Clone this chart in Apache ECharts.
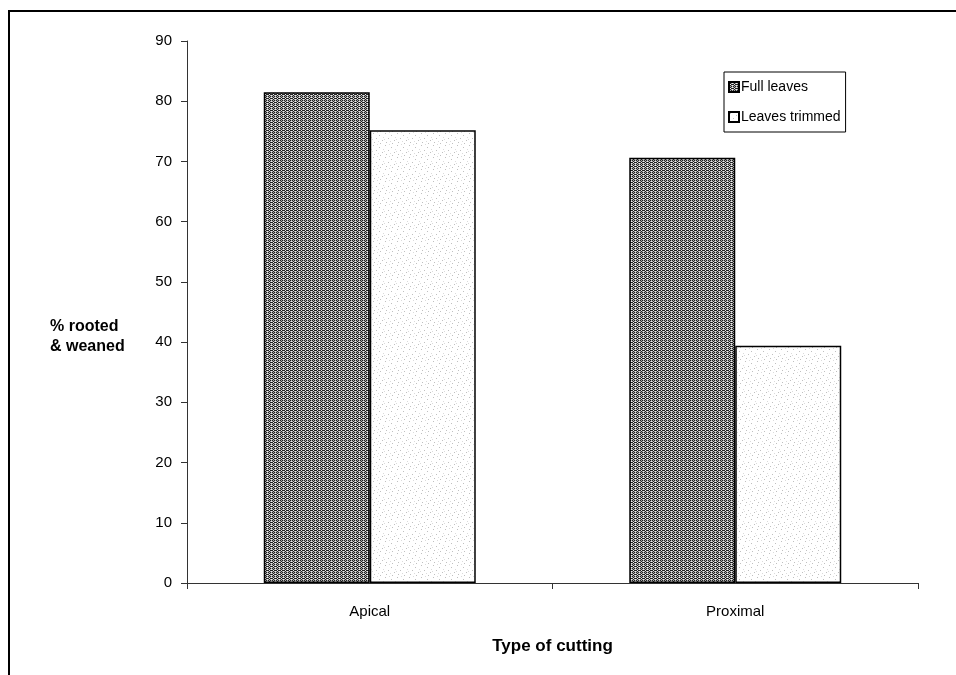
<!DOCTYPE html>
<html>
<head>
<meta charset="utf-8">
<script src="https://cdn.jsdelivr.net/npm/echarts@6/dist/echarts.min.js"></script>
<style>html,body{margin:0;padding:0;background:#fff}#c{width:956px;height:675px}</style>
</head>
<body>
<div id="c"></div>
<script>
const categories = ['Apical', 'Proximal'];
const seriesNames = ['Full leaves', 'Leaves trimmed'];
const fullLeaves = [81.5, 70.6];
const leavesTrimmed = [75.2, 39.4];
const yTicks = [0, 10, 20, 30, 40, 50, 60, 70, 80, 90];

function makeDark() {
  const c = document.createElement('canvas');
  c.width = 4; c.height = 4;
  const g = c.getContext('2d');
  g.fillStyle = '#a8a8a8'; g.fillRect(0, 0, 4, 4);
  g.fillStyle = '#222';
  const pts = [[0,0],[2,0],[1,1],[3,2],[0,2],[2,2],[1,3]];
  pts.forEach(p => g.fillRect(p[0], p[1], 1, 1));
  g.fillStyle = '#f0f0f0';
  g.fillRect(1, 2, 1, 1); g.fillRect(3, 3, 1, 1); g.fillRect(3, 1, 1, 1);
  return c;
}
function makeLight() {
  const c = document.createElement('canvas');
  c.width = 12; c.height = 12;
  const g = c.getContext('2d');
  g.fillStyle = '#fff'; g.fillRect(0, 0, 12, 12);
  g.fillStyle = '#c0c0c0';
  [[1,1],[7,3],[4,6],[10,8],[2,10],[8,11]].forEach(p => g.fillRect(p[0], p[1], 1, 1));
  g.fillStyle = '#dcdcdc';
  [[5,0],[11,5],[0,7],[6,9]].forEach(p => g.fillRect(p[0], p[1], 1, 1));
  return c;
}
const darkPat = { image: makeDark(), repeat: 'repeat' };
const lightPat = { image: makeLight(), repeat: 'repeat' };

const chart = echarts.init(document.getElementById('c'), null, { renderer: 'canvas' });
const font = 'Arial, "Liberation Sans", sans-serif';
chart.setOption({
  animation: false,
  backgroundColor: '#fff',
  textStyle: { fontFamily: font },
  grid: { left: 187, right: 38, top: 41, bottom: 92 },
  legend: {
    orient: 'vertical',
    left: 724, top: 72,
    data: seriesNames,
    itemWidth: 10, itemHeight: 10,
    itemGap: 16,
    padding: [8, 5, 8, 4],
    backgroundColor: '#fff',
    borderColor: '#000', borderWidth: 1,
    textStyle: { fontSize: 14, color: '#000', fontFamily: font, padding: [0, 0, 0, -3] },
    icon: 'rect'
  },
  xAxis: {
    type: 'category',
    data: categories,
    name: 'Type of cutting',
    nameLocation: 'middle',
    nameGap: 55,
    nameTextStyle: { fontSize: 17, fontWeight: 'bold', color: '#000' },
    axisLine: { lineStyle: { color: '#333', width: 1 } },
    axisTick: { show: true, length: 6, lineStyle: { color: '#333' } },
    axisLabel: { fontSize: 15, color: '#000', margin: 21 }
  },
  yAxis: {
    type: 'value',
    min: 0, max: 90, interval: 10,
    axisLine: { show: true, lineStyle: { color: '#333', width: 1 } },
    axisTick: { show: true, length: 6, lineStyle: { color: '#333' } },
    splitLine: { show: false },
    axisLabel: { fontSize: 15, color: '#000', margin: 15,
      formatter: v => yTicks.includes(v) ? String(v) : '' }
  },
  graphic: [
    { type: 'rect', shape: { x: 9, y: 11, width: 1200, height: 1000 },
      style: { fill: 'none', stroke: '#000', lineWidth: 2 }, silent: true },
    { type: 'text', left: 50, top: 317,
      style: { text: '% rooted\n& weaned', fontSize: 16, fontWeight: 'bold', fill: '#000',
        fontFamily: font, lineHeight: 20, align: 'left' } }
  ],
  series: [
    { name: seriesNames[0], type: 'bar', data: fullLeaves, barGap: '0%', barCategoryGap: '42%',
      itemStyle: { color: darkPat, borderColor: '#000', borderWidth: 1.5 } },
    { name: seriesNames[1], type: 'bar', data: leavesTrimmed, barGap: '0%', barCategoryGap: '42%',
      itemStyle: { color: lightPat, borderColor: '#000', borderWidth: 1.5 } }
  ]
});
</script>
</body>
</html>
